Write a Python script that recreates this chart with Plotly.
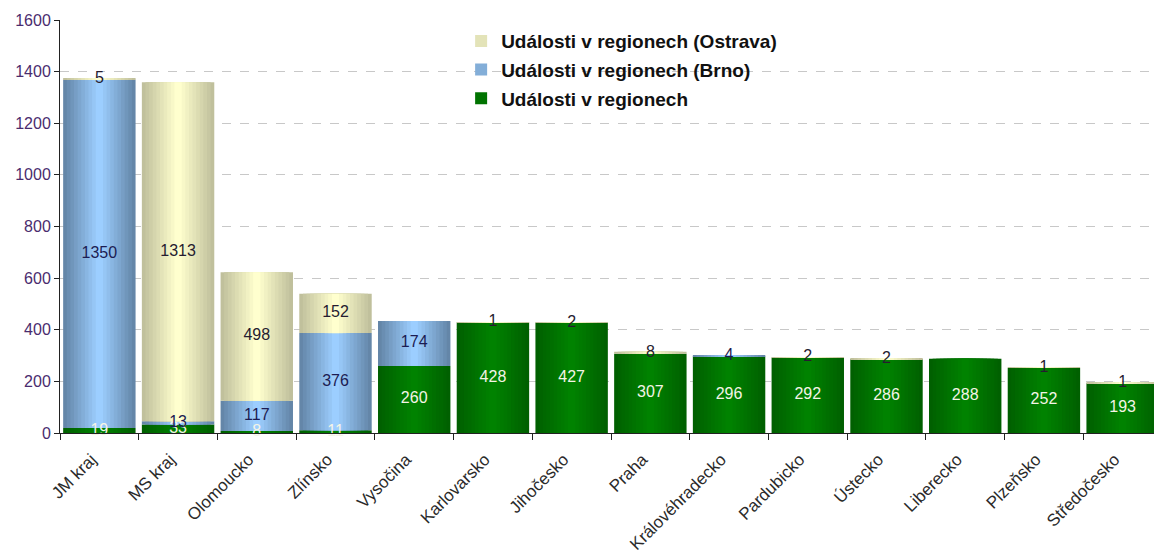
import plotly.graph_objects as go
import numpy as np

categories = ["JM kraj", "MS kraj", "Olomoucko", "Zlínsko", "Vysočina", "Karlovarsko",
              "Jihočesko", "Praha", "Královéhradecko", "Pardubicko", "Ústecko",
              "Liberecko", "Plzeňsko", "Středočesko"]
regiony = [19, 33, 8, 11, 260, 428, 427, 307, 296, 292, 286, 288, 252, 193]
brno = [1350, 13, 117, 376, 174, 0, 0, 0, 4, 0, 0, 0, 0, 0]
ostrava = [5, 1313, 498, 152, 0, 1, 2, 8, 0, 2, 2, 0, 1, 1]
names = ["Události v regionech", "Události v regionech (Brno)", "Události v regionech (Ostrava)"]

FONT = "Liberation Sans, Arial, sans-serif"

series = [
    dict(name=names[0], vals=np.array(regiony), edge=(0, 96, 0), center=(0, 130, 0),
         txt="#f4f4e6", rank=3),
    dict(name=names[1], vals=np.array(brno), edge=(100, 134, 168), center=(156, 206, 255),
         txt="#1c1c52", rank=2),
    dict(name=names[2], vals=np.array(ostrava), edge=(192, 192, 156), center=(255, 255, 206),
         txt="#261c30", rank=1),
]

N = 10
FULLW = 0.92


def mix(a, b, t):
    return "rgb(%d,%d,%d)" % tuple(round(a[i] + (b[i] - a[i]) * t) for i in range(3))


fig = go.Figure()
base = np.zeros(len(categories))
for s in series:
    for k in range(N):
        t = k / (N - 1)
        w = FULLW * (1 - k / N)
        fig.add_trace(go.Bar(
            x=categories, y=s["vals"], base=base, width=w,
            marker=dict(color=mix(s["edge"], s["center"], t), line=dict(width=0)),
            name="<b>%s</b>" % s["name"], legendgroup=s["name"],
            showlegend=(k == N // 2), legendrank=s["rank"],
            hoverinfo="skip",
        ))
    labels = [str(v) if v > 0 else "" for v in s["vals"]]
    fig.add_trace(go.Scatter(
        x=categories, y=base + s["vals"] / 2, mode="text", text=labels,
        textfont=dict(family=FONT, size=16, color=s["txt"]),
        showlegend=False, hoverinfo="skip", cliponaxis=False,
    ))
    base = base + s["vals"]

fig.add_shape(type="rect", xref="paper", yref="y", x0=0.31, x1=1.0, y0=1300, y1=1500,
              fillcolor="white", line=dict(width=0), layer="between")

fig.update_layout(
    width=1162, height=554,
    margin=dict(l=52, r=8, t=12, b=129, autoexpand=False),
    paper_bgcolor="white", plot_bgcolor="white",
    barmode="overlay",
    font=dict(family=FONT),
    legend=dict(x=0.364, y=0.995, xanchor="left", yanchor="top",
                bgcolor="rgba(255,255,255,0)", font=dict(family=FONT, size=19, color="#111"),
                tracegroupgap=1, itemwidth=30),
    showlegend=True,
)
fig.update_yaxes(range=[0, 1600], dtick=200, showgrid=True, gridcolor="#c8c8c8",
                 griddash="dash", gridwidth=1, zeroline=False, showline=True,
                 linecolor="#222", linewidth=1, ticks="outside", ticklen=5, automargin=False,
                 tickcolor="#222", tickfont=dict(family=FONT, size=16, color="#4a2c6e"))
fig.update_xaxes(range=[-0.5, len(categories) - 0.5], showline=True, linecolor="#222",
                 linewidth=1, ticks="outside", automargin=False,
                 tickson="boundaries", ticklen=6, tickcolor="#222", tickangle=-45,
                 ticklabelshift=-8, ticklabelstandoff=9,
                 tickfont=dict(family=FONT, size=17, color="#2a2a2a"), showgrid=False)

fig.write_html("out.html")
